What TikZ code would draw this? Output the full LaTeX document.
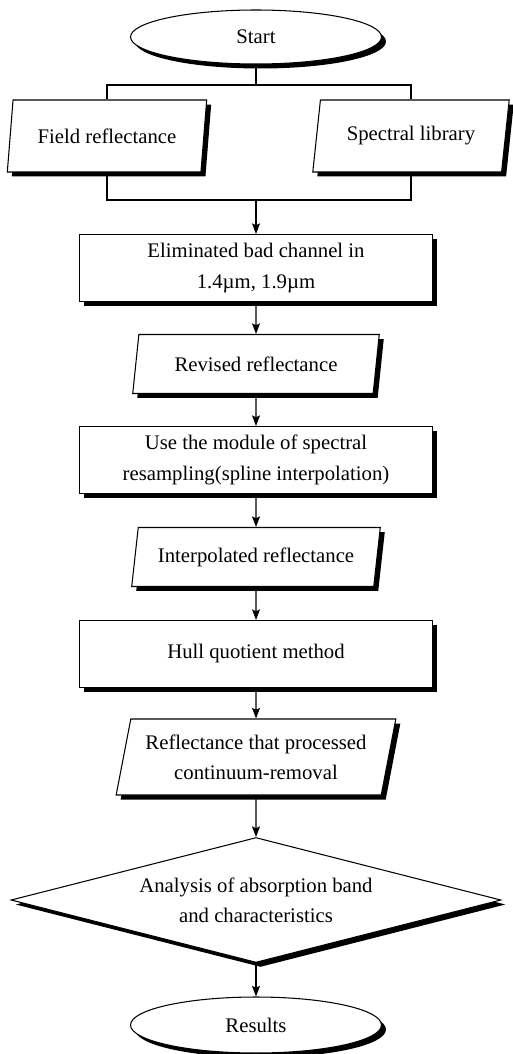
\documentclass[tikz,border=0pt]{standalone}
\usepackage{fontspec}
\setmainfont{Liberation Serif}
\usetikzlibrary{shapes.geometric,shadows,arrows.meta}

\begin{document}
\begin{tikzpicture}[x=0.02cm, y=-0.02cm, font=\fontsize{11.8}{17.2}\selectfont,
  base/.style={draw, fill=white, line width=0.6pt, inner sep=0pt, align=center,
               drop shadow={shadow xshift=0.09cm, shadow yshift=-0.09cm, fill=black, opacity=1}},
  term/.style={base, ellipse, minimum width=5.02cm, minimum height=1.08cm},
  proc/.style={base, rectangle, minimum width=7.06cm, minimum height=1.34cm},
  dat/.style={base, trapezium, trapezium left angle=74, trapezium right angle=106,
              trapezium stretches, minimum height=1.18cm},
  dec/.style={base, diamond, aspect=4, minimum width=9.8cm, minimum height=2.5cm},
  ln/.style={line width=0.6pt},
  arr/.style={ln, -{Stealth[length=6pt, width=4.5pt, inset=1pt]}},
]
  \useasboundingbox (0,0) rectangle (512,1054);

  \node[term] (start)   at (256,37)   {Start};
  \node[dat, minimum width=4cm, minimum height=1.44cm]    (field) at (107,136) {Field reflectance};
  \node[dat, minimum width=3.94cm, minimum height=1.44cm] (spec)  at (411,136) {Spectral library};
  \node[proc] (elim)    at (256,268)  {Eliminated bad channel in\\1.4µm, 1.9µm};
  \node[dat, minimum width=4.96cm] (revised) at (256,364) {Revised reflectance};
  \node[proc] (resamp)  at (256,460)  {Use the module of spectral\\resampling(spline interpolation)};
  \node[dat, minimum width=4.98cm] (interp)  at (256,557) {Interpolated reflectance};
  \node[proc] (hull)    at (256,654)  {Hull quotient method};
  \node[dat, minimum width=5.6cm, minimum height=1.52cm] (crr) at (256,757)
                                      {Reflectance that processed\\continuum-removal};
  \node[dec] (anal)     at (256,900)  {Analysis of absorption band\\and characteristics};
  \node[term, minimum height=1.12cm] (results) at (256,1025) {Results};

  \coordinate (split) at (256,85);
  \coordinate (join)  at (256,200);

  \draw[ln] (start) -- (split);
  \draw[ln] (field.north) |- (split) -| (spec.north);
  \draw[ln] (field.south) |- (join) -| (spec.south);
  \draw[arr] (join) -- (elim);
  \foreach \a/\b in {elim/revised, revised/resamp, resamp/interp, interp/hull,
                     hull/crr, crr/anal, anal/results}
    \draw[arr] (\a) -- (\b);
\end{tikzpicture}
\end{document}
